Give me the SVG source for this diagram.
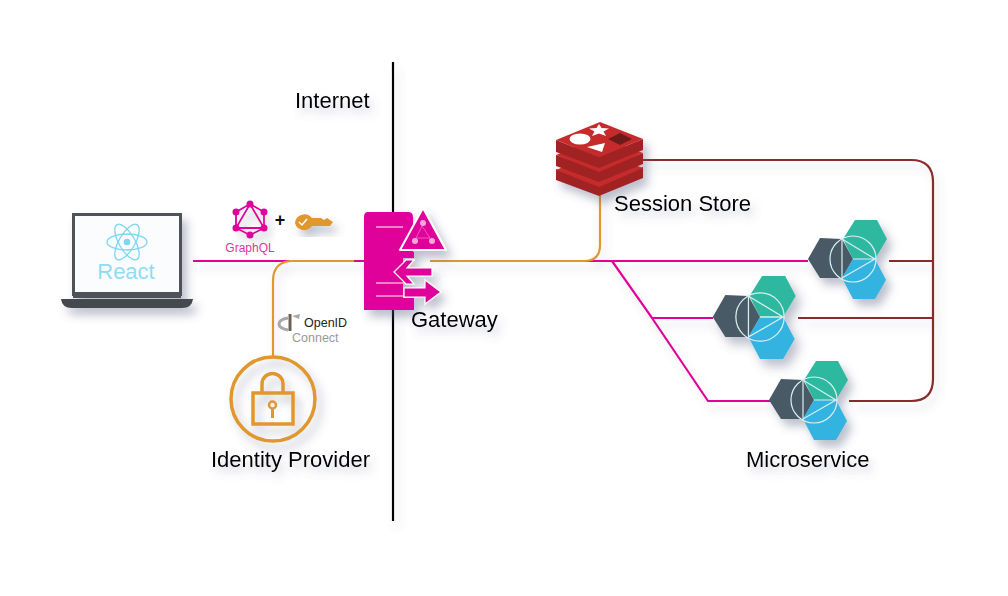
<svg xmlns="http://www.w3.org/2000/svg" width="1008" height="596" viewBox="0 0 1008 596">
<style>
text{font-family:"Liberation Sans",Arial,sans-serif}
.lbl{font-size:22px;fill:#000;filter:url(#ts)}
.c{fill:none;stroke-width:2.2}
.m{stroke:#e0059a}
.o{stroke:#e0982e}
.r{stroke:#8a2a2a}
</style>
<defs>
<filter id="sh" x="-30%" y="-30%" width="170%" height="170%"><feDropShadow dx="5" dy="7" stdDeviation="5" flood-color="#5a6080" flood-opacity=".4"/></filter>
<filter id="ts" x="-10%" y="-50%" width="125%" height="220%"><feDropShadow dx="4" dy="6" stdDeviation="4" flood-color="#5a6080" flood-opacity=".3"/></filter>
<filter id="ls" filterUnits="userSpaceOnUse" x="0" y="0" width="1008" height="596"><feDropShadow dx="4" dy="7" stdDeviation="4" flood-color="#5a6080" flood-opacity=".22"/></filter>
<g id="ms">
<g filter="url(#sh)">
<path d="M-45 0L-33-21L-11-20L0 0L-11 19L-33 19Z" fill="#4a5a66"/>
<path d="M-10-20L2-39L24-39L34-20L22 0L0 0Z" fill="#2fb8a0"/>
<path d="M0 0L22 0L33 21L22 40L0 40L-11 19Z" fill="#32b3e0"/>
</g>
<g fill="none" stroke="#d8f0f0" stroke-width="1.2">
<circle cx="0" cy="0" r="23"/>
<path d="M-11-20V19L22 0ZM0 0H22"/>
</g>
</g>
</defs>
<rect width="1008" height="596" fill="#fff"/>
<g id="connectors" filter="url(#ls)">
<path d="M393 62V521" fill="none" stroke="#000" stroke-width="2.2"/>
<path class="c m" d="M193 261H290M352 261H365"/>
<path class="c m" d="M430 261H808M612 261L652 318H713M652 318L708 401H770"/>
<path class="c o" d="M273 357V281Q273 261 293 261H354"/>
<path class="c o" d="M430 261H584Q600 261 600 245V190"/>
<path class="c r" d="M643 160H911Q933 160 933 182V379Q933 401 911 401H849"/>
<path class="c r" d="M889 261H933M798 318H933"/>
</g>
<g id="internet-label"><text class="lbl" x="295" y="108">Internet</text></g>
<g id="react-client">
<g filter="url(#sh)">
<rect x="73.500" y="214.500" width="107" height="80" fill="#fbfcfe" stroke="#4e5358" stroke-width="3"/>
<rect x="73" y="292" width="108" height="6" fill="#4e5358"/>
<path d="M61 299H193Q192 308 182 308H72Q62 308 61 299Z" fill="#45494d"/>
</g>
<g fill="none" stroke="#7fd6f2" stroke-width="1.3">
<ellipse cx="127" cy="242" rx="20" ry="8"/>
<ellipse cx="127" cy="242" rx="20" ry="8" transform="rotate(60 127 242)"/>
<ellipse cx="127" cy="242" rx="20" ry="8" transform="rotate(120 127 242)"/>
</g>
<circle cx="127" cy="242" r="3.300" fill="#7fd6f2"/>
<text x="126" y="279" text-anchor="middle" font-size="22" fill="#8fdcf5">React</text>
</g>
<g id="graphql">
<g filter="url(#sh)" fill="none" stroke="#e0059a" stroke-width="1.800">
<path d="M250 204L264 212V228L250 235L236 228V212ZM250 204L264 228H236Z"/>
</g>
<g fill="#e0059a"><circle cx="250" cy="204" r="3.500"/><circle cx="264" cy="212" r="3.500"/><circle cx="264" cy="228" r="3.500"/><circle cx="250" cy="235" r="3.500"/><circle cx="236" cy="228" r="3.500"/><circle cx="236" cy="212" r="3.500"/></g>
<text x="250" y="252" text-anchor="middle" font-size="12" fill="#e0339f">GraphQL</text>
<text x="280" y="226" text-anchor="middle" font-size="18" font-weight="bold" fill="#111">+</text>
<g filter="url(#sh)"><path d="M295 223A9.500 9.500 0 0 1 312 218H321L324 220L327 218L330 220L333 222L330 226H312A9.500 9.500 0 0 1 295 223Z" fill="#e0982e"/></g>
<path d="M299 222L302 225L307 219" fill="none" stroke="#fff" stroke-width="1.500"/>
</g>
<g id="openid">
<path d="M288 318C282 319 279 321 279 324C279 327 283 329 288 330" fill="none" stroke="#a8a8a8" stroke-width="3"/>
<path d="M290 314V331" stroke="#6a6058" stroke-width="3" fill="none"/>
<path d="M292 316L299 319L300 314Z" fill="#a8a8a8"/>
<text x="304" y="327" font-size="12.500" fill="#222">OpenID</text>
<text x="292" y="342" font-size="12.500" fill="#999">Connect</text>
</g>
<g id="identity-provider">
<g filter="url(#sh)" fill="none" stroke="#e0982e" stroke-width="3.500">
<circle cx="273" cy="399" r="42"/>
<rect x="253" y="393" width="40" height="31"/>
<path d="M262 393V384A10.500 10.500 0 0 1 283 384V393"/>
</g>
<circle cx="272.500" cy="405" r="3.500" fill="none" stroke="#e0982e" stroke-width="2.500"/>
<path d="M272.500 408V418" stroke="#e0982e" stroke-width="3"/>
<text class="lbl" x="211" y="467">Identity Provider</text>
</g>
<g id="gateway">
<g filter="url(#sh)" fill="#e0059a">
<path d="M364 217Q364 212 368 212H408Q413 212 413 217V252H414V258H403V298H414V310H364Z"/>
<path d="M423 208L446 250H400Z" stroke="#fff" stroke-width="2" stroke-linejoin="round"/>
<path d="M394 272L406 260H414L407 268H432V276H407L414 284H406Z" stroke="#fff" stroke-width="1.200"/>
<path d="M404 288H425V280L441 292L425 304V297H404Z" stroke="#fff" stroke-width="1.200"/>
</g>
<path d="M376 227H403M376 283H403M376 296H403" stroke="#f8a8d8" stroke-width="1.500"/>
<circle cx="423" cy="223" r="3" fill="#f8a8d8"/><circle cx="415" cy="241" r="3" fill="#f8a8d8"/><circle cx="432" cy="241" r="3" fill="#f8a8d8"/>
<path d="M422 226L416 238H430Z" fill="none" stroke="#f070c0" stroke-width=".8"/>
<text class="lbl" x="411" y="327">Gateway</text>
</g>
<g id="session-store">
<g filter="url(#sh)">
<path d="M556 169V180L599 196L643 178V167L599 184Z" fill="#a02424"/>
<path d="M556 170L599 187L643 168L600 152Z" fill="#c62c2c"/>
<path d="M556 155V166L599 182L643 164V153L599 170Z" fill="#a02424"/>
<path d="M556 155L599 172L643 153L600 137Z" fill="#c62c2c"/>
<path d="M556 140V152L599 168L643 150V139L599 157Z" fill="#a02424"/>
<path d="M556 140L599 157L643 139L600 122Z" fill="#c62c2c"/>
</g>
<path d="M599 124L601.500 128L609 128.500L603.500 131.500L606 136L599 133.500L592 136L594.500 131.500L589 128.500L596.500 128Z" fill="#fff"/>
<ellipse cx="580" cy="139" rx="10.500" ry="5.500" fill="#fff"/>
<path d="M587 147L605 143L602 152Z" fill="#fff"/>
<path d="M608 139L620 133L632 139L620 145Z" fill="#6e1a1a"/>
<text class="lbl" x="614" y="211">Session Store</text>
</g>
<g id="microservice-1"><use href="#ms" x="853" y="259"/></g>
<g id="microservice-2"><use href="#ms" transform="translate(760 317) scale(1.05)"/></g>
<g id="microservice-3"><use href="#ms" x="814" y="400"/></g>
<g id="microservice-label"><text class="lbl" x="746" y="467">Microservice</text></g>
</svg>
